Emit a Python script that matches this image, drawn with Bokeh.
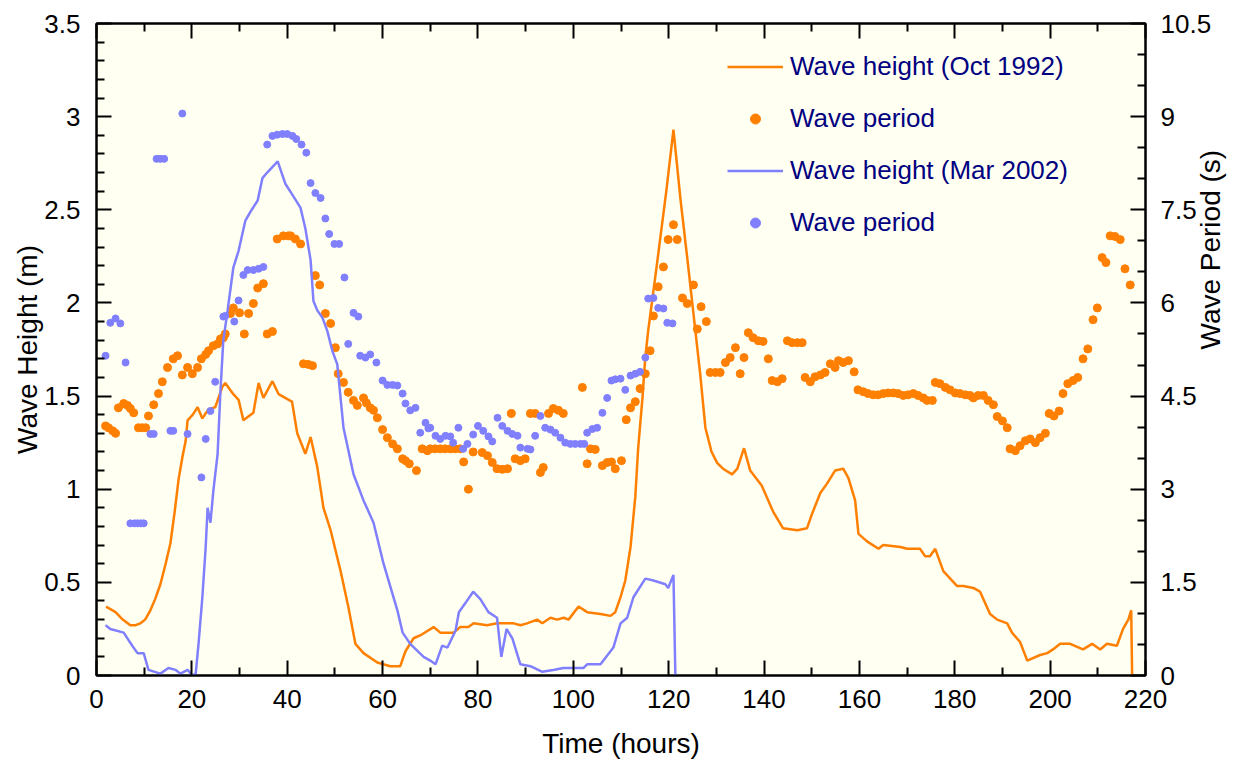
import math
from bokeh.plotting import figure
from bokeh.models import (Range1d, LinearAxis, FixedTicker, CustomJSTickFormatter,
                          Legend, LegendItem)
from bokeh.embed import file_html
from bokeh.resources import INLINE

# ---------------- data ----------------
oct_t = [2, 4, 5.5, 7.1, 8.2, 9.2, 10.2, 11.3, 12.3, 13.4, 14.5, 15.5, 16.4, 17.2, 18.0, 18.7, 19.1,
         20.2, 21.2, 22.2, 23.5, 24.9, 26.4, 27.0, 28.7, 29.8, 30.8, 32.9, 34.0, 35.0, 36.9, 38.2,
         40.3, 41.0, 42.1, 43.8, 44.9, 46.3, 47.6, 49.1, 51.2, 52.8, 54.3, 56.0, 58.9, 61.6, 63.7,
         64.8, 66.5, 68.2, 70.7, 72.1, 74.9, 76.3, 78.0, 79.1, 81.9, 84.0, 87.5, 88.9, 90.3, 92.4,
         93.5, 95.2, 96.6, 98.0, 99.0, 101.1, 102.9, 105.7, 107.8, 108.8, 109.9, 110.9, 112.0, 113.0,
         113.6, 114.5, 115.1, 115.7, 117.5, 119.5, 121.0, 122.5, 123.9, 125.6, 126.6, 127.7, 129.0,
         130.2, 131.4, 133.3, 134.4, 135.8, 137.1, 139.5, 141.9, 144.0, 147.0, 149.0, 150.1, 151.8,
         153.2, 154.9, 156.6, 157.7, 159.1, 159.8, 161.6, 164.0, 165.0, 168.6, 170.0, 172.7, 173.8,
         174.8, 175.9, 177.6, 180.5, 181.8, 183.9, 185.3, 187.4, 188.9, 191.0, 192.0, 193.7, 195.2,
         197.9, 199.4, 200.6, 202.1, 204.2, 206.9, 208.8, 210.5, 211.9, 214.0, 215.3, 216.4, 217.0,
         217.2]
oct_height = [0.37, 0.34, 0.30, 0.27, 0.27, 0.28, 0.30, 0.35, 0.41, 0.49, 0.60, 0.71, 0.88, 1.05, 1.17,
              1.26, 1.37, 1.40, 1.44, 1.38, 1.43, 1.44, 1.55, 1.57, 1.51, 1.48, 1.37, 1.41, 1.57, 1.49,
              1.58, 1.51, 1.48, 1.47, 1.30, 1.19, 1.28, 1.12, 0.90, 0.78, 0.56, 0.37, 0.17, 0.12, 0.07,
              0.05, 0.05, 0.13, 0.20, 0.22, 0.26, 0.23, 0.23, 0.26, 0.26, 0.28, 0.27, 0.28, 0.28, 0.27,
              0.28, 0.30, 0.28, 0.31, 0.30, 0.31, 0.30, 0.37, 0.34, 0.33, 0.32, 0.34, 0.42, 0.51, 0.69,
              0.96, 1.22, 1.49, 1.71, 1.85, 2.20, 2.60, 2.93, 2.55, 2.24, 1.85, 1.62, 1.33, 1.20, 1.14,
              1.11, 1.08, 1.11, 1.22, 1.10, 1.02, 0.88, 0.79, 0.78, 0.79, 0.87, 0.98, 1.03, 1.10, 1.11,
              1.06, 0.94, 0.76, 0.72, 0.68, 0.70, 0.69, 0.68, 0.68, 0.64, 0.64, 0.68, 0.56, 0.48, 0.48,
              0.47, 0.45, 0.33, 0.30, 0.28, 0.23, 0.18, 0.08, 0.11, 0.12, 0.14, 0.17, 0.17, 0.14, 0.17,
              0.14, 0.17, 0.16, 0.25, 0.30, 0.35, 0.0]

oct_period_t = [1.9, 2.5, 3.4, 4.0, 4.6, 5.7, 6.5, 7.1, 7.8, 8.8, 9.6, 10.3, 10.9, 12.0, 13.0, 13.8,
                14.9, 16.1, 17.0, 18.0, 19.1, 20.1, 21.2, 22.0, 22.9, 23.5, 24.5, 25.4, 26.0, 26.6,
                27.0, 28.1, 28.7, 30.0, 31.0, 31.9, 32.9, 33.8, 35.0, 35.8, 36.9, 37.9, 39.2, 40.2,
                40.7, 41.7, 42.8, 43.4, 44.4, 45.3, 45.9, 46.8, 48.0, 49.1, 50.1, 50.7, 51.8, 52.8,
                53.9, 54.7, 56.0, 56.6, 57.4, 58.1, 58.9, 60.0, 61.0, 62.1, 63.1, 64.2, 64.8, 65.6,
                67.1, 68.3, 69.4, 70.0, 71.0, 72.1, 73.1, 74.2, 75.2, 76.3, 77.0, 78.0, 79.0, 80.9,
                82.0, 83.0, 84.0, 85.1, 86.2, 87.0, 87.8, 88.9, 89.9, 91.0, 92.0, 93.1, 93.7, 94.8,
                95.8, 96.9, 97.9, 101.9, 102.9, 103.6, 104.6, 106.1, 107.1, 108.0, 108.8, 110.1,
                111.1, 112.0, 113.0, 114.0, 115.1, 116.1, 116.8, 117.8, 118.9, 119.9, 121.0, 121.8,
                122.9, 123.9, 125.2, 126.0, 126.8, 127.9, 128.7, 129.8, 130.8, 131.9, 132.9, 134.0,
                135.0, 135.8, 136.7, 137.7, 138.8, 139.8, 140.9, 141.7, 142.8, 143.8, 144.9, 145.9,
                147.0, 148.0, 148.6, 149.7, 150.7, 151.8, 152.8, 153.9, 154.9, 155.6, 156.6, 157.7,
                158.9, 159.7, 160.8, 161.8, 162.9, 163.9, 165.0, 166.0, 167.1, 168.1, 169.2, 170.2,
                171.3, 172.3, 173.4, 174.2, 175.3, 175.9, 176.9, 178.0, 179.0, 180.1, 181.1, 182.2,
                183.2, 183.9, 184.9, 186.0, 187.0, 188.1, 188.9, 190.0, 191.0, 191.6, 192.7, 193.7,
                194.8, 195.8, 196.9, 197.9, 199.0, 199.8, 200.8, 201.9, 202.7, 203.7, 204.8, 205.8,
                206.9, 207.9, 209.0, 209.9, 210.9, 211.7, 212.6, 213.6, 214.7, 215.7, 216.8]
oct_period = [4.02, 3.99, 3.94, 3.90, 4.31, 4.38, 4.35, 4.30, 4.23, 3.99, 3.99, 3.99, 4.18, 4.36, 4.54,
              4.73, 4.96, 5.10, 5.15, 4.84, 4.96, 4.86, 4.96, 5.10, 5.17, 5.23, 5.31, 5.34, 5.42, 5.44,
              5.50, 5.83, 5.92, 5.84, 5.50, 5.83, 5.99, 6.24, 6.31, 5.50, 5.54, 7.03, 7.08, 7.08, 7.08,
              7.03, 6.95, 5.02, 5.01, 4.99, 6.44, 6.29, 5.83, 5.67, 5.28, 4.86, 4.72, 4.56, 4.43, 4.35,
              4.47, 4.39, 4.31, 4.27, 4.15, 3.96, 3.83, 3.73, 3.65, 3.49, 3.46, 3.41, 3.30, 3.65, 3.62,
              3.65, 3.65, 3.65, 3.65, 3.65, 3.65, 3.65, 3.44, 3.00, 3.60, 3.59, 3.54, 3.43, 3.33, 3.32,
              3.33, 4.22, 3.49, 3.46, 3.49, 4.22, 4.22, 3.27, 3.35, 4.22, 4.30, 4.27, 4.22, 4.64, 3.41,
              3.65, 3.64, 3.38, 3.43, 3.44, 3.33, 3.46, 4.12, 4.31, 4.41, 4.62, 4.86, 5.23, 5.79, 6.26,
              6.58, 7.02, 7.26, 7.02, 6.08, 5.99, 6.29, 5.58, 5.94, 5.70, 4.88, 4.88, 4.88, 5.04, 5.12,
              5.28, 4.86, 5.12, 5.52, 5.44, 5.39, 5.38, 5.10, 4.75, 4.73, 4.78, 5.39, 5.36, 5.36, 5.36,
              4.80, 4.73, 4.81, 4.84, 4.88, 5.02, 4.96, 5.07, 5.04, 5.07, 4.89, 4.60, 4.57, 4.54, 4.52,
              4.52, 4.54, 4.55, 4.55, 4.54, 4.51, 4.52, 4.54, 4.51, 4.47, 4.43, 4.43, 4.72, 4.70, 4.64,
              4.60, 4.55, 4.54, 4.52, 4.51, 4.47, 4.51, 4.51, 4.43, 4.36, 4.17, 4.10, 3.99, 3.65, 3.62,
              3.70, 3.78, 3.81, 3.75, 3.83, 3.90, 4.22, 4.18, 4.26, 4.54, 4.70, 4.75, 4.80, 5.10, 5.26,
              5.73, 5.92, 6.73, 6.65, 7.08, 7.07, 7.02, 6.55, 6.29]

mar_t = [1.9, 2.9, 5.7, 7.5, 8.6, 9.9, 10.9, 13.4, 15.1, 16.6, 17.6, 19.1, 20.1, 20.8, 21.4, 22.2,
         22.9, 23.3, 23.9, 24.5, 25.4, 26.0, 26.6, 27.5, 28.7, 29.8, 31.2, 32.3, 33.8, 34.8, 35.8,
         38.0, 39.6, 41.1, 42.8, 43.8, 44.9, 45.5, 46.3, 47.4, 48.4, 49.5, 50.5, 51.8, 53.9, 56.0,
         58.1, 60.2, 63.1, 64.2, 65.8, 68.6, 70.0, 71.1, 72.5, 73.6, 75.3, 76.0, 77.4, 79.0, 80.5,
         82.2, 84.0, 84.9, 86.0, 87.2, 88.9, 91.0, 93.5, 95.8, 97.9, 102.1, 102.9, 105.7, 108.4,
         109.9, 111.3, 112.6, 115.1, 116.8, 119.3, 119.9, 121.0, 121.4]
mar_height = [0.27, 0.25, 0.23, 0.16, 0.12, 0.12, 0.03, 0.01, 0.04, 0.03, 0.01, 0.03, 0.0, 0.01,
              0.17, 0.42, 0.69, 0.90, 0.82, 0.99, 1.19, 1.53, 1.80, 1.96, 2.19, 2.28, 2.44, 2.49,
              2.55, 2.67, 2.70, 2.76, 2.64, 2.58, 2.51, 2.40, 2.23, 2.01, 1.96, 1.92, 1.85, 1.74,
              1.67, 1.33, 1.08, 0.94, 0.82, 0.60, 0.35, 0.23, 0.17, 0.10, 0.08, 0.06, 0.16, 0.15,
              0.24, 0.34, 0.39, 0.45, 0.41, 0.34, 0.31, 0.10, 0.25, 0.20, 0.06, 0.05, 0.02, 0.03,
              0.04, 0.04, 0.06, 0.06, 0.15, 0.28, 0.31, 0.42, 0.52, 0.51, 0.49, 0.47, 0.54, 0.0]

mar_period_t = [1.9, 2.9, 4.0, 5.0, 6.1, 7.1, 8.0, 8.6, 9.3, 9.9, 11.3, 12.0, 12.6, 13.4, 14.2, 15.5,
                16.1, 18.0, 19.1, 22.0, 22.9, 23.9, 24.9, 26.6, 27.0, 28.9, 29.8, 30.8, 31.7, 32.9,
                34.0, 35.0, 35.8, 36.9, 37.9, 39.0, 40.0, 41.1, 41.9, 43.0, 44.0, 44.9, 45.9, 47.0,
                48.0, 48.8, 49.9, 50.9, 52.0, 52.8, 53.9, 54.9, 55.3, 56.4, 57.4, 58.7, 60.0, 61.0,
                62.1, 63.1, 64.2, 64.8, 65.8, 66.9, 67.9, 69.0, 69.6, 70.0, 71.1, 72.1, 73.2, 74.2,
                74.8, 75.9, 76.9, 77.8, 79.0, 80.0, 81.1, 82.2, 83.0, 84.1, 85.1, 86.2, 87.2, 88.3,
                88.9, 90.4, 91.0, 92.0, 93.1, 94.1, 95.2, 96.2, 97.3, 98.3, 99.4, 100.4, 101.5, 102.3,
                102.9, 104.0, 105.0, 106.1, 107.1, 108.0, 108.8, 109.9, 110.9, 112.0, 113.0, 114.0,
                115.1, 115.7, 116.8, 117.8, 118.9, 119.7, 120.8]
mar_period = [5.15, 5.68, 5.75, 5.67, 5.04, 2.45, 2.45, 2.45, 2.45, 2.45, 3.89, 3.89, 8.32, 8.32, 8.32,
              3.94, 3.94, 9.05, 3.89, 3.19, 3.81, 4.26, 4.73, 5.78, 5.79, 5.70, 6.04, 6.45, 6.53, 6.53,
              6.55, 6.58, 8.55, 8.69, 8.71, 8.72, 8.72, 8.69, 8.64, 8.55, 8.42, 7.93, 7.77, 7.69, 7.36,
              7.11, 6.95, 6.95, 6.41, 5.34, 5.84, 5.78, 5.15, 5.12, 5.17, 5.04, 4.75, 4.68, 4.68, 4.67,
              4.54, 4.38, 4.27, 4.31, 3.91, 4.07, 3.98, 3.99, 3.86, 3.81, 3.86, 3.85, 3.75, 3.99, 3.65,
              3.73, 3.88, 4.02, 3.94, 3.85, 3.77, 4.15, 4.02, 3.94, 3.89, 3.86, 3.67, 3.65, 3.64, 3.86,
              4.18, 3.99, 3.96, 3.91, 3.83, 3.75, 3.73, 3.73, 3.73, 3.73, 3.91, 3.97, 3.99, 4.23, 4.47,
              4.75, 4.77, 4.78, 4.60, 4.83, 4.86, 4.89, 5.12, 6.07, 6.08, 5.92, 5.91, 5.68, 5.67]

assert len(oct_t) == len(oct_height)
assert len(oct_period_t) == len(oct_period)
assert len(mar_t) == len(mar_height)
assert len(mar_period_t) == len(mar_period)

x_ticks = [0, 20, 40, 60, 80, 100, 120, 140, 160, 180, 200, 220]
h_ticks = [0, 0.5, 1, 1.5, 2, 2.5, 3, 3.5]
t_ticks = [0, 1.5, 3, 4.5, 6, 7.5, 9, 10.5]
x_title = "Time (hours)"
left_title = "Wave Height (m)"
right_title = "Wave Period (s)"
legend_labels = ["Wave height (Oct 1992)", "Wave period", "Wave height (Mar 2002)", "Wave period"]

ORANGE = "#FF7F00"
BLUE = "#8080FF"
FONT = "Liberation Sans"

# ---------------- figure ----------------
p = figure(width=1245, height=761, output_backend="svg", toolbar_location=None,
           x_range=Range1d(0, 220), y_range=Range1d(0, 3.5),
           min_border_left=96, min_border_right=100, min_border_top=23, min_border_bottom=86,
           x_axis_location=None, y_axis_location=None)
p.extra_y_ranges = {"period": Range1d(0, 10.5)}
p.background_fill_color = "#FFFFF2"
p.border_fill_color = "white"
p.outline_line_color = "black"
p.outline_line_width = 2
p.xgrid.visible = False
p.ygrid.visible = False

fmt = CustomJSTickFormatter(code="return (Math.round(tick*10)/10).toString();")
blank = CustomJSTickFormatter(code="return '';")


def style(ax, label_size="26px"):
    ax.major_tick_in = 15
    ax.major_tick_out = 0
    ax.minor_tick_in = 8
    ax.minor_tick_out = 0
    ax.axis_line_width = 2
    ax.major_tick_line_width = 2
    ax.minor_tick_line_width = 2
    ax.axis_line_color = "black"
    ax.major_label_text_font = FONT
    ax.major_label_text_font_size = label_size
    ax.major_label_text_color = "black"
    ax.axis_label_text_font = FONT
    ax.axis_label_text_font_size = "28px"
    ax.axis_label_text_font_style = "normal"
    ax.axis_label_text_color = "black"
    ax.formatter = fmt


xminor = [v for v in range(10, 220, 20)]
bottom = LinearAxis(ticker=FixedTicker(ticks=x_ticks, minor_ticks=xminor), axis_label=x_title)
style(bottom)
bottom.major_label_standoff = 14
bottom.axis_label_standoff = 17
p.add_layout(bottom, "below")

top = LinearAxis(ticker=FixedTicker(ticks=x_ticks, minor_ticks=xminor))
style(top)
top.formatter = blank
top.major_label_standoff = 0
p.add_layout(top, "above")

hminor = [round(i * 0.1, 1) for i in range(0, 36) if i % 5 != 0]
left = LinearAxis(ticker=FixedTicker(ticks=h_ticks, minor_ticks=hminor), axis_label=left_title)
style(left)
left.major_label_standoff = 16
left.axis_label_standoff = -2
p.add_layout(left, "left")

tminor = [round(i * 0.5, 1) for i in range(0, 22) if i % 3 != 0]
right = LinearAxis(y_range_name="period", ticker=FixedTicker(ticks=t_ticks, minor_ticks=tminor),
                   axis_label=right_title)
style(right)
right.major_label_standoff = 15
right.axis_label_standoff = -4
try:
    right.axis_label_orientation = math.pi / 2
except Exception:
    pass
p.add_layout(right, "right")

# ---------------- glyphs ----------------
r_oct = p.line(oct_t, oct_height, line_color=ORANGE, line_width=2.5)
r_oct_p = p.scatter(oct_period_t, oct_period, y_range_name="period", marker="circle",
                    size=8, fill_color=ORANGE, line_color=ORANGE)
r_mar = p.line(mar_t, mar_height, line_color=BLUE, line_width=2.5)
r_mar_p = p.scatter(mar_period_t, mar_period, y_range_name="period", marker="circle",
                    size=7, fill_color=BLUE, line_color=BLUE)

legend = Legend(items=[
    LegendItem(label=legend_labels[0], renderers=[r_oct]),
    LegendItem(label=legend_labels[1], renderers=[r_oct_p]),
    LegendItem(label=legend_labels[2], renderers=[r_mar]),
    LegendItem(label=legend_labels[3], renderers=[r_mar_p]),
], location=(631, 437), border_line_color=None, background_fill_alpha=0,
    label_text_font=FONT, label_text_font_size="26px", label_text_color="#000080",
    glyph_width=56, glyph_height=25, label_height=25, spacing=21, padding=0, margin=0,
    label_standoff=7)
p.add_layout(legend)

open("out.html", "w").write(file_html(p, INLINE))
